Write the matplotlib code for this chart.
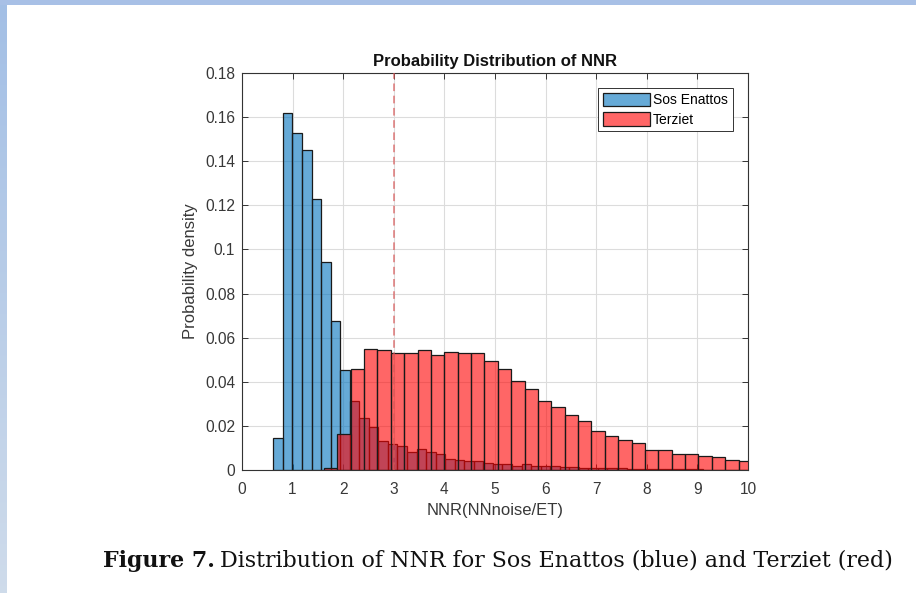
import numpy as np
import matplotlib
matplotlib.use("Agg")
import matplotlib.pyplot as plt
from matplotlib.patches import Patch, Rectangle

# Histogram data (probability density per bin)
sos_start = 0.62
sos_width = 0.18865
sos_density = [
    0.0144, 0.1620, 0.1530, 0.1450, 0.1229, 0.0942, 0.0677, 0.0454,
    0.0314, 0.0234, 0.0196, 0.0133, 0.0117, 0.0110, 0.0083, 0.0095,
    0.0080, 0.0071, 0.0048, 0.0045, 0.0043, 0.0042, 0.0033, 0.0027,
    0.0026, 0.0020, 0.0026, 0.0020, 0.0020, 0.0018, 0.0013, 0.0012,
    0.0011, 0.0010, 0.0010, 0.0008, 0.0007, 0.0006, 0.0005, 0.0005,
    0.0004, 0.0004, 0.0003, 0.0003, 0.0003, 0.0002, 0.0002, 0.0002,
    0.0002, 0.0001,
]

terziet_start = 1.619
terziet_width = 0.2643
terziet_density = [
    0.0007, 0.0162, 0.0457, 0.0549, 0.0544, 0.0532, 0.0532, 0.0544,
    0.0522, 0.0535, 0.0532, 0.0529, 0.0494, 0.0457, 0.0405, 0.0367,
    0.0314, 0.0287, 0.0249, 0.0224, 0.0178, 0.0154, 0.0136, 0.0121,
    0.0092, 0.0092, 0.0074, 0.0074, 0.0064, 0.0057, 0.0046, 0.0043,
]

threshold = 3.0
x_ticks = list(range(0, 11))
y_ticks = [0, 0.02, 0.04, 0.06, 0.08, 0.1, 0.12, 0.14, 0.16, 0.18]
y_tick_labels = ["0", "0.02", "0.04", "0.06", "0.08", "0.1", "0.12", "0.14", "0.16", "0.18"]

plt.rcParams["font.family"] = ["Liberation Sans", "DejaVu Sans"]

fig = plt.figure(figsize=(9.16, 5.93), dpi=100)
W, H = 916, 593

# page frame accents
fig.patches.append(Rectangle((0, 1 - 5 / H), 1, 5 / H, transform=fig.transFigure,
                             facecolor="#a8c0e6", edgecolor="none", zorder=0))
gax = fig.add_axes([0, 0, 7 / W, 1 - 5 / H])
grad = np.linspace(0, 1, 256).reshape(-1, 1)
top_c = np.array([0.64, 0.75, 0.90])
bot_c = np.array([0.81, 0.86, 0.92])
img = top_c[None, None, :] * (1 - grad[:, :, None]) + bot_c[None, None, :] * grad[:, :, None]
gax.imshow(img, aspect="auto", extent=[0, 1, 0, 1])
gax.set_axis_off()

ax = fig.add_axes([242 / W, 1 - 470 / H, (748 - 242) / W, (470 - 73) / H])

blue = (0.0, 0.447, 0.741, 0.6)
red = (1.0, 0.0, 0.0, 0.6)
edge = (0.1, 0.1, 0.1, 1.0)

sos_edges = sos_start + sos_width * np.arange(len(sos_density))
ter_edges = terziet_start + terziet_width * np.arange(len(terziet_density))

ax.bar(sos_edges, sos_density, width=sos_width, align="edge",
       facecolor=blue, edgecolor=edge, linewidth=0.9, zorder=2)
ax.bar(ter_edges, terziet_density, width=terziet_width, align="edge",
       facecolor=red, edgecolor=edge, linewidth=0.9, zorder=3)

ax.axvline(threshold, color=(0.85, 0.35, 0.35, 0.8), linestyle=(0, (5, 3)),
           linewidth=1.1, zorder=4)

ax.set_xlim(0, 10)
ax.set_ylim(0, 0.18)
ax.set_xticks(x_ticks)
ax.set_yticks(y_ticks)
ax.set_yticklabels(y_tick_labels)

ax.grid(True, color="#dcdcdc", linewidth=0.8, zorder=0)
ax.set_axisbelow(True)
for s in ax.spines.values():
    s.set_color("#333333")
    s.set_linewidth(0.8)
ax.tick_params(direction="in", top=True, right=True, length=4, width=0.7,
               colors="#333333", labelsize=11.2, labelcolor="#383838")
ax.tick_params(axis="x", pad=9)
ax.tick_params(axis="y", pad=5)

ax.set_title("Probability Distribution of NNR", fontsize=12, fontweight="bold",
             color="#111111", pad=5)
ax.set_xlabel("NNR(NNnoise/ET)", fontsize=12, color="#383838", labelpad=4)
ax.set_ylabel("Probability density", fontsize=12, color="#383838", labelpad=5)

handles = [Patch(facecolor=blue, edgecolor=edge, linewidth=0.9, label="Sos Enattos"),
           Patch(facecolor=red, edgecolor=edge, linewidth=0.9, label="Terziet")]
leg = ax.legend(handles=handles, loc="upper right", bbox_to_anchor=(0.970, 0.962),
                borderaxespad=0, fontsize=10, handlelength=3.4, handleheight=1.1,
                handletextpad=0.2, labelspacing=0.35, borderpad=0.35,
                fancybox=False, framealpha=1, edgecolor="#333333")
leg.get_frame().set_linewidth(0.7)

cap_bold = fig.text(103 / W, 1 - 561 / H, "Figure 7.", fontsize=15.9,
                    fontweight="bold", family="DejaVu Serif", va="center", ha="left",
                    color="#111111")
fig.canvas.draw()
bb = cap_bold.get_window_extent()
fig.text((bb.x1 + 5) / W, 1 - 561 / H, "Distribution of NNR for Sos Enattos (blue) and Terziet (red)",
         fontsize=15.9, family="DejaVu Serif", va="center", ha="left", color="#111111")

fig.savefig("out.png", dpi=100)
